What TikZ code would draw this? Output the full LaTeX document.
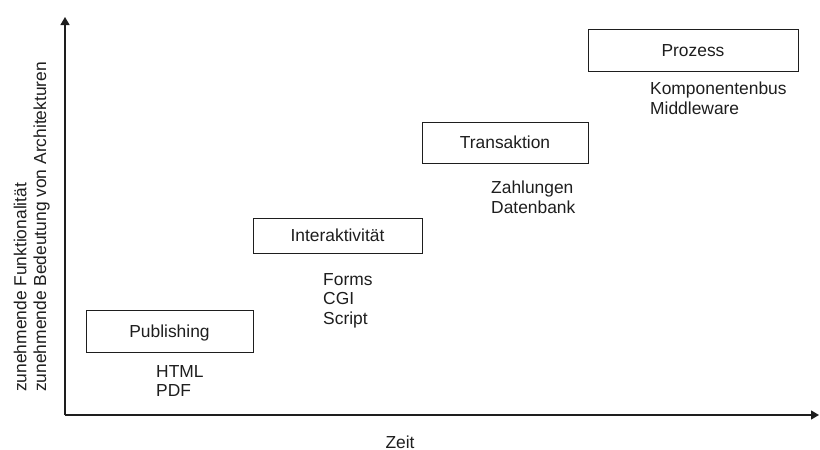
\documentclass[tikz,border=0pt]{standalone}
\usepackage{fontspec}
\setmainfont{Liberation Sans}
\usetikzlibrary{arrows.meta}
\definecolor{ink}{HTML}{1E1E1E}
\begin{document}
\begin{tikzpicture}[x=1pt,y=-1pt,
  every node/.style={text=ink,font=\fontsize{17.4}{19.8}\selectfont,inner sep=0pt},
  stage/.style={draw=ink,line width=1pt,text height=12.4pt,text depth=0pt},
  items/.style={align=left,anchor=north west},
  axis/.style={draw=ink,line width=1.3pt,-{Triangle[length=8pt,width=9pt]}}]
  \useasboundingbox (0,0) rectangle (820,450);

  % axes
  \coordinate (origin) at (65,415);
  \coordinate (ytip) at (65,17);
  \coordinate (xtip) at (819,415);
  \draw[axis] (origin) -- (ytip);
  \draw[axis] (origin) -- (xtip);

  % axis labels
  \node[rotate=90,align=left,anchor=south west] (ylabel) at (50,392)
    {zunehmende Funktionalität\\zunehmende Bedeutung von Architekturen};
  \node[text height=12.4pt,text depth=0pt] (xlabel) at (400,442) {Zeit};

  % stages
  \node[stage,minimum width=167pt,minimum height=42pt] (publishing) at (169.5,331) {Publishing};
  \node[stage,minimum width=169pt,minimum height=35pt] (interaktiv) at (337.5,235.5) {Interaktivität};
  \node[stage,minimum width=166pt,minimum height=41pt] (transaktion) at (505,142.5) {Transaktion};
  \node[stage,minimum width=210pt,minimum height=42pt] (prozess) at (693,50) {Prozess};

  % technologies per stage
  \node[items] (pubitems) at (156,365) {HTML\\PDF};
  \node[items] (interitems) at (323,273) {Forms\\CGI\\Script};
  \node[items] (transitems) at (491,181) {Zahlungen\\Datenbank};
  \node[items] (prozitems) at (650,82) {Komponentenbus\\Middleware};
\end{tikzpicture}
\end{document}
